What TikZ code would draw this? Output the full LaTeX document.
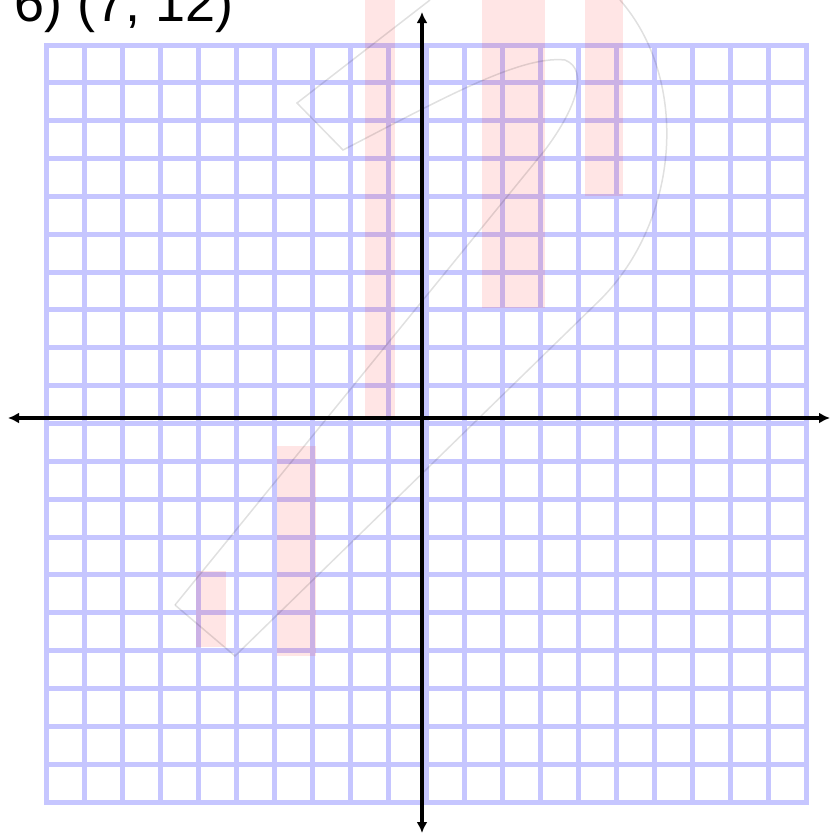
\documentclass[tikz,border=0pt]{standalone}
\usepackage{fontspec}
\setmainfont{Liberation Sans}
\usetikzlibrary{arrows.meta}

\definecolor{gridblue}{RGB}{198,198,255}

\begin{document}
\begin{tikzpicture}[x=1pt,y=-1pt,
    gridline/.style={draw=gridblue,line width=5pt,line cap=rect},
    axisline/.style={line width=3.5pt,{Latex[length=11pt,width=11pt]}-{Latex[length=11pt,width=11pt]}},
    wmbar/.style={fill=red,fill opacity=0.1},
    wmline/.style={draw=black,draw opacity=0.12,line width=1.5pt}]
      \useasboundingbox (0,0) rectangle (830,835);

      % grid 20 x 20
      \foreach \i in {0,...,20} {
        \draw[gridline] (46+38*\i,45) -- (46+38*\i,802);
        \draw[gridline] (46,45+37.85*\i) -- (806,45+37.85*\i);
      }

      % faint watermark
      \fill[wmbar] (365,0) rectangle (395,420);
      \fill[wmbar] (482,0) rectangle (545,308);
      \fill[wmbar] (585,0) rectangle (623,196);
      \fill[wmbar] (277,446) rectangle (316,656);
      \fill[wmbar] (196,571) rectangle (226,647);
      \draw[wmline] (175,605) -- (235,656) -- (600,300)
            .. controls (680,220) and (690,80) .. (620,0);
      \draw[wmline] (430,0) -- (297,103) -- (343,150)
            .. controls (440,100) and (520,55) .. (565,60)
            .. controls (590,70) and (575,110) .. (545,150) -- (175,605);

      % axes
      \coordinate (left) at (8,418);
      \coordinate (right) at (830,418);
      \coordinate (top) at (422,12);
      \coordinate (bottom) at (422,833);
      \draw[axisline] (left) -- (right);
      \draw[axisline] (top) -- (bottom);

      \node[anchor=base west,inner sep=0pt,font=\fontsize{54}{60}\selectfont] (title) at (14,21) {6) (7, 12)};
\end{tikzpicture}
\end{document}
